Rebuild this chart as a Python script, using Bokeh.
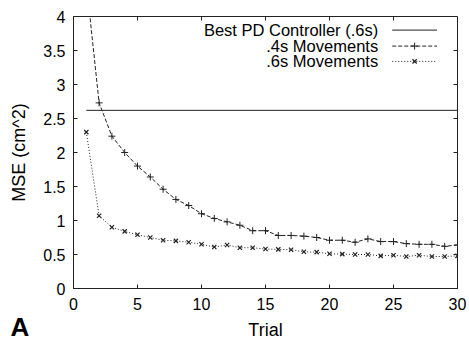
from bokeh.plotting import figure
from bokeh.models import Range1d, FixedTicker
from bokeh.core.properties import value
from bokeh.embed import file_html
from bokeh.resources import INLINE

# Learning curves: mean squared error per trial
trials = list(range(1, 31))
mse_04s = [4.5, 2.73, 2.24, 2.00, 1.80, 1.64, 1.46, 1.31, 1.22, 1.10,
           1.03, 0.98, 0.93, 0.85, 0.85, 0.78, 0.78, 0.77, 0.75, 0.71,
           0.71, 0.68, 0.73, 0.69, 0.69, 0.66, 0.65, 0.65, 0.62, 0.64]
mse_06s = [2.30, 1.07, 0.90, 0.84, 0.79, 0.75, 0.71, 0.70, 0.68, 0.65,
           0.61, 0.64, 0.60, 0.60, 0.58, 0.575, 0.57, 0.54, 0.535, 0.51,
           0.505, 0.50, 0.50, 0.48, 0.49, 0.47, 0.49, 0.47, 0.47, 0.48]
best_pd = 2.62
pd_trials = [1, 30]

x_ticks = [0, 5, 10, 15, 20, 25, 30]
y_ticks = [0, 0.5, 1, 1.5, 2, 2.5, 3, 3.5, 4]
y_tick_labels = ["0", "0.5", "1", "1.5", "2", "2.5", "3", "3.5", "4"]
legend_labels = ["Best PD Controller (.6s)", ".4s Movements", ".6s Movements"]
x_title = "Trial"
y_title = "MSE (cm^2)"
panel_letter = "A"

FONT = "Liberation Sans"
INK = "#222222"
X0, X1, Y0, Y1 = 0, 30, 0, 4
BORDER_L, BORDER_R, BORDER_T, BORDER_B = 73, 12, 16, 50
W, H = 469, 338
FRAME_W, FRAME_H = W - BORDER_L - BORDER_R, H - BORDER_T - BORDER_B
TICK_PX = 4
px_x = (X1 - X0) / FRAME_W   # data units per pixel
px_y = (Y1 - Y0) / FRAME_H

p = figure(width=W, height=H, x_range=Range1d(X0, X1), y_range=Range1d(Y0, Y1),
           output_backend="svg", toolbar_location=None,
           min_border_left=BORDER_L, min_border_right=BORDER_R,
           min_border_top=BORDER_T, min_border_bottom=BORDER_B)
p.xgrid.visible = False
p.ygrid.visible = False
p.outline_line_color = INK
p.background_fill_color = "white"
p.border_fill_color = "white"

p.xaxis.ticker = FixedTicker(ticks=x_ticks)
p.yaxis.ticker = FixedTicker(ticks=y_ticks)
p.yaxis.major_label_overrides = {t: s for t, s in zip(y_ticks, y_tick_labels)}

for ax in p.xaxis + p.yaxis:
    ax.axis_line_color = INK
    ax.major_tick_line_color = INK
    ax.major_tick_in = TICK_PX
    ax.major_tick_out = 0
    ax.minor_tick_line_color = None
    ax.major_label_text_font = FONT
    ax.major_label_text_font_size = "16px"
    ax.major_label_text_color = "black"
    ax.axis_label_text_font = FONT
    ax.axis_label_text_font_size = "18px"
    ax.axis_label_text_font_style = "normal"
    ax.axis_label_text_color = "black"

p.xaxis.major_label_standoff = 9
p.yaxis.axis_label = y_title
p.yaxis.major_label_standoff = 8
p.yaxis.axis_label_standoff = 11

# mirrored inward ticks on the top and right edges
p.segment(x0=x_ticks, y0=[Y1] * len(x_ticks), x1=x_ticks,
          y1=[Y1 - TICK_PX * px_y] * len(x_ticks), line_color=INK, line_width=1)
p.segment(x0=[X1] * len(y_ticks), y0=y_ticks, x1=[X1 - TICK_PX * px_x] * len(y_ticks),
          y1=y_ticks, line_color=INK, line_width=1)

# reference level of the best PD controller
p.line(pd_trials, [best_pd, best_pd], line_color=INK, line_width=1)

# .4s movements
p.line(trials, mse_04s, line_color=INK, line_width=1, line_dash="4 2")
p.scatter(trials, mse_04s, marker="cross", size=7, line_color=INK, line_width=1)

# .6s movements
p.line(trials, mse_06s, line_color=INK, line_width=1, line_dash="1 2")
p.scatter(trials, mse_06s, marker="x", size=6, line_color=INK, line_width=1.2)

# key: labels on the left, line samples on the right
key_text_x = 23.8
key_x0, key_x1 = 24.9, 28.4
key_mid = (key_x0 + key_x1) / 2
key_rows = [3.80, 3.565, 3.34]
p.text(x=[key_text_x] * 3, y=key_rows, text=legend_labels,
       text_align="right", text_baseline="middle",
       text_font=value(FONT), text_font_size="16.5px", text_color="black")
p.line([key_x0, key_x1], [key_rows[0]] * 2, line_color=INK, line_width=1)
p.line([key_x0, key_x1], [key_rows[1]] * 2, line_color=INK, line_width=1, line_dash="4 2")
p.scatter([key_mid], [key_rows[1]], marker="cross", size=7, line_color=INK)
p.line([key_x0, key_x1], [key_rows[2]] * 2, line_color=INK, line_width=1, line_dash="1 2")
p.scatter([key_mid], [key_rows[2]], marker="x", size=6, line_color=INK, line_width=1.2)

# x-axis title, set low in the bottom margin
p.text(x=[(X0 + X1) / 2], y=[Y0 - 41.5 * px_y], text=[x_title], level="overlay",
       text_align="center", text_baseline="middle",
       text_font=value(FONT), text_font_size="18px", text_color="black")

# panel letter in the lower-left corner, outside the plotting area
p.text(x=[X0 - (BORDER_L - 10) * px_x], y=[Y0 - 38 * px_y], text=[panel_letter],
       level="overlay", text_align="left", text_baseline="middle",
       text_font=value(FONT), text_font_size="26px", text_font_style="bold",
       text_color="black")

open("out.html", "w").write(file_html(p, INLINE))
